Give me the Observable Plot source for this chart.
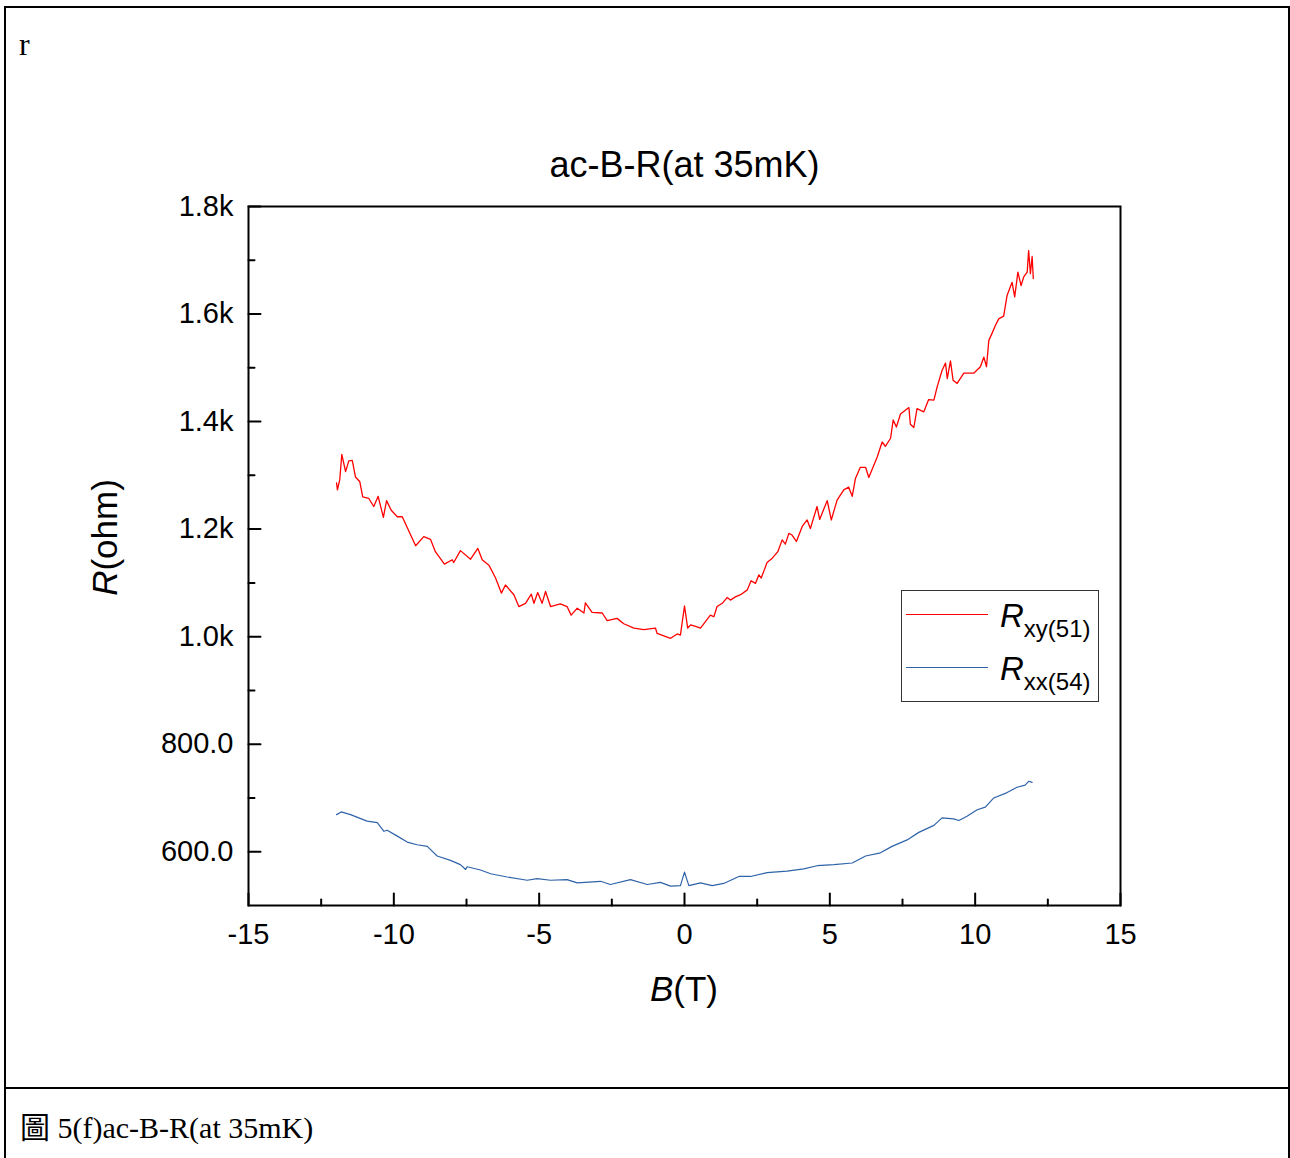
<!DOCTYPE html>
<html>
<head>
<meta charset="utf-8">
<script src="https://cdn.jsdelivr.net/npm/d3@7"></script>
<script src="https://cdn.jsdelivr.net/npm/@observablehq/plot@0.6"></script>
<style>
  html, body { margin: 0; padding: 0; background: #fff; }
  #page { position: relative; width: 1290px; height: 1158px; overflow: hidden; background: #fff; }
  .serif { font-family: "Liberation Serif", "Times New Roman", "Noto Sans CJK TC", serif; font-size: 30px; line-height: 30px; color: #000; position: absolute; white-space: nowrap; }
  .sans { font-family: "Liberation Sans", Arial, sans-serif; color: #000; position: absolute; white-space: nowrap; }
  #chart { position: absolute; left: 0; top: 0; }
</style>
</head>
<body>
<div id="page">
  <div style="position:absolute;left:4px;top:6px;width:1286px;height:1180px;border:2px solid #000;box-sizing:border-box;"></div>
  <div style="position:absolute;left:4px;top:1087px;width:1286px;height:0;border-top:2px solid #000;"></div>
  <div class="serif" style="left:19px;top:29px;font-size:32px;">r</div>
  <div id="chart"></div>
  <div class="serif" id="caption" style="left:20px;top:1113px;"></div>
  <div class="sans" id="xlabel" style="left:534px;top:971px;width:300px;text-align:center;font-size:35px;line-height:35px;"></div>
  <div class="sans" id="ylabel" style="left:4px;top:519.5px;width:200px;height:35px;text-align:center;font-size:35px;line-height:35px;transform:rotate(-90deg);transform-origin:100px 17.5px;"></div>
  <div id="legend"></div>
</div>
<script>
// ---------- data ----------
const titleText = "ac-B-R(at 35mK)";
const captionText = "圖 5(f)ac-B-R(at 35mK)";
const xLabelMain = "B", xLabelRest = "(T)";
const yLabelMain = "R", yLabelRest = "(ohm)";

const xDomain = [-15, 15];
const yDomain = [500, 1800];
const xMajor = [-15, -10, -5, 0, 5, 10, 15];
const xMinor = [-12.5, -7.5, -2.5, 2.5, 7.5, 12.5];
const yMajor = [600, 800, 1000, 1200, 1400, 1600, 1800];
const yMinor = [700, 900, 1100, 1300, 1500, 1700];

const seriesNames = ["xy(51)", "xx(54)"];
const seriesColors = ["#ff0000", "#2f63a8"];

// R_xy(51)
const Bxy = [-11.97,-11.94,-11.86,-11.79,-11.66,-11.55,-11.43,-11.32,-11.17,-11.07,-10.86,-10.69,-10.54,-10.36,-10.25,-10.09,-9.88,-9.71,-9.54,-9.25,-8.97,-8.74,-8.57,-8.26,-7.99,-7.94,-7.71,-7.36,-7.11,-6.96,-6.73,-6.50,-6.30,-6.16,-5.87,-5.70,-5.47,-5.27,-5.18,-5.05,-4.90,-4.78,-4.61,-4.27,-4.04,-3.90,-3.69,-3.46,-3.41,-3.18,-2.83,-2.66,-2.32,-2.09,-1.74,-1.40,-1.00,-0.94,-0.48,-0.25,-0.14,0.00,0.11,0.21,0.38,0.55,0.72,0.89,1.01,1.12,1.30,1.47,1.58,1.75,1.93,2.16,2.29,2.44,2.56,2.64,2.84,3.02,3.21,3.36,3.47,3.59,3.70,3.85,4.05,4.22,4.33,4.56,4.65,4.91,5.05,5.25,5.48,5.65,5.77,5.88,6.05,6.23,6.34,6.63,6.80,6.91,7.09,7.18,7.29,7.43,7.72,7.77,7.89,8.00,8.23,8.40,8.58,8.69,8.86,8.98,9.04,9.15,9.24,9.38,9.61,9.95,10.18,10.30,10.39,10.47,10.58,10.70,10.81,10.98,11.10,11.27,11.36,11.47,11.58,11.67,11.79,11.84,11.90,11.96,12.00];
const Rxy = [1286,1273,1292,1339,1307,1327,1328,1297,1288,1260,1257,1242,1261,1222,1253,1235,1223,1223,1203,1169,1186,1181,1158,1135,1143,1138,1160,1144,1164,1143,1133,1109,1081,1096,1078,1056,1062,1079,1062,1082,1062,1084,1056,1061,1056,1040,1053,1044,1063,1045,1044,1030,1034,1024,1016,1013,1016,1006,997,1005,1003,1057,1016,1022,1019,1016,1028,1040,1037,1056,1062,1073,1068,1074,1078,1087,1104,1099,1115,1109,1138,1146,1158,1180,1172,1192,1189,1177,1205,1217,1201,1242,1218,1253,1217,1254,1273,1278,1261,1294,1315,1315,1296,1334,1362,1354,1369,1403,1390,1414,1426,1395,1389,1424,1418,1441,1440,1464,1495,1509,1480,1513,1477,1471,1490,1490,1502,1520,1502,1551,1564,1579,1591,1596,1635,1659,1632,1678,1653,1669,1678,1718,1675,1707,1666];

// R_xx(54)
const Bxx = [-11.97,-11.81,-11.49,-10.92,-10.57,-10.34,-10.23,-9.88,-9.54,-9.20,-8.85,-8.51,-8.05,-7.71,-7.53,-7.48,-7.02,-6.67,-6.10,-5.41,-5.07,-4.61,-4.04,-3.69,-2.89,-2.55,-1.86,-1.28,-0.83,-0.48,-0.14,0.00,0.15,0.55,0.95,1.35,1.87,2.27,2.84,3.53,4.10,4.56,5.14,5.77,6.23,6.74,7.14,7.66,8.06,8.58,8.86,9.26,9.44,9.72,10.07,10.35,10.64,11.10,11.44,11.72,11.84,11.96];
const Rxx = [669,674,669,657,654,638,640,629,618,613,610,592,584,576,567,572,566,559,553,547,550,547,548,542,545,539,548,539,543,536,537,562,537,542,537,541,554,554,561,564,568,574,576,579,592,598,610,622,636,649,663,661,658,666,678,683,700,710,720,724,731,729];

// ---------- build ----------
const xyRows = Bxy.map((b, i) => ({B: b, R: Rxy[i]}));
const xxRows = Bxx.map((b, i) => ({B: b, R: Rxx[i]}));

const tickShape = { draw(context, l) { context.moveTo(0, 0); context.lineTo(0, -l); } };
const fmtY = d => d >= 1000 ? (d / 1000).toFixed(1) + "k" : d.toFixed(1);

const chart = Plot.plot({
  width: 1290,
  height: 1080,
  marginLeft: 248,
  marginRight: 170,
  marginTop: 206,
  marginBottom: 175,
  style: { fontFamily: "'Liberation Sans', Arial, sans-serif", background: "none", overflow: "visible", color: "#000" },
  x: { domain: xDomain },
  y: { domain: yDomain },
  marks: [
    Plot.line(xxRows, { x: "B", y: "R", stroke: seriesColors[1], strokeWidth: 1.2 }),
    Plot.line(xyRows, { x: "B", y: "R", stroke: seriesColors[0], strokeWidth: 1.3 }),
    Plot.frame({ stroke: "#000", strokeWidth: 2 }),
    Plot.vector(xMajor, { x: d => d, y: () => yDomain[0], rotate: 0, length: 12, anchor: "start", shape: tickShape, stroke: "#000", strokeWidth: 2 }),
    Plot.vector(xMinor, { x: d => d, y: () => yDomain[0], rotate: 0, length: 6, anchor: "start", shape: tickShape, stroke: "#000", strokeWidth: 2 }),
    Plot.vector(yMajor, { x: () => xDomain[0], y: d => d, rotate: 90, length: 12, anchor: "start", shape: tickShape, stroke: "#000", strokeWidth: 2 }),
    Plot.vector(yMinor, { x: () => xDomain[0], y: d => d, rotate: 90, length: 6, anchor: "start", shape: tickShape, stroke: "#000", strokeWidth: 2 }),
    Plot.axisX({ ticks: xMajor, tickSize: 0, tickPadding: 18, tickFormat: d => String(d).replace("−", "-"), fontSize: 29, label: null }),
    Plot.axisY({ ticks: yMajor, tickSize: 0, tickPadding: 15, tickFormat: fmtY, fontSize: 29, label: null }),
    Plot.text([titleText], { frameAnchor: "top", lineAnchor: "bottom", dy: -30, text: d => d, fontSize: 36, fill: "#000" })
  ]
});
document.getElementById("chart").appendChild(chart);

// labels with italic symbols
document.getElementById("caption").textContent = captionText;
document.getElementById("xlabel").innerHTML = `<i>${xLabelMain}</i>${xLabelRest}`;
document.getElementById("ylabel").innerHTML = `<i>${yLabelMain}</i>${yLabelRest}`;

// legend
const legend = document.getElementById("legend");
legend.innerHTML = `
  <div style="position:absolute;left:901px;top:590px;width:198px;height:112px;border:1px solid #333;box-sizing:border-box;background:#fff;"></div>
  ${seriesNames.map((name, i) => `
    <div style="position:absolute;left:906px;top:${614 + i * 53}px;width:82px;height:0;border-top:1px solid ${seriesColors[i]};"></div>
    <div class="sans" style="left:1000px;top:${599 + i * 53}px;font-size:33px;line-height:33px;"><i>R</i><span style="font-size:24px;position:relative;top:10px;">${name}</span></div>
  `).join("")}
`;
</script>
</body>
</html>
